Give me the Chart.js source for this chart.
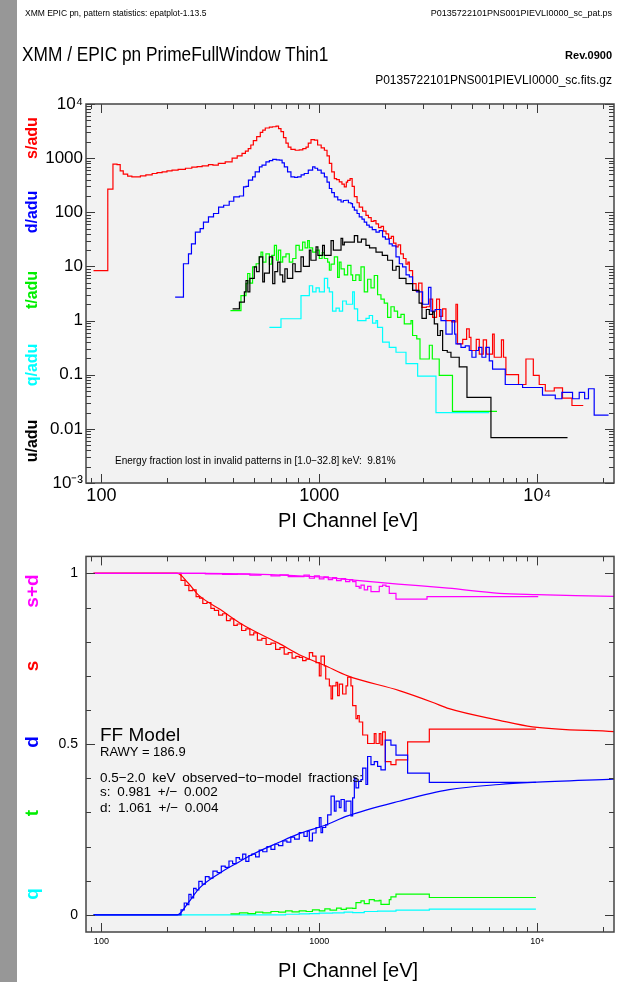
<!DOCTYPE html>
<html><head><meta charset="utf-8">
<script src="https://cdn.jsdelivr.net/npm/chart.js@4.4.1/dist/chart.umd.min.js"></script>
<style>
html,body{margin:0;padding:0;background:#fff;}
body{width:619px;height:982px;position:relative;overflow:hidden;font-family:"Liberation Sans",Arial,sans-serif;}
canvas{position:absolute;left:0;}
#c1{top:0}
#c2{top:540px}
.t{position:absolute;white-space:nowrap;line-height:1;color:#000;}
.bar{position:absolute;left:0;top:0;width:17px;height:982px;background:#979797;}
.v{position:absolute;transform:translate(-50%,-50%) rotate(-90deg);font-size:16px;font-weight:bold;white-space:nowrap;line-height:1}
.vb{font-size:19px}
</style></head><body>
<canvas id="c1" width="619" height="540"></canvas>
<canvas id="c2" width="619" height="442"></canvas>
<div class="bar"></div>

<div class="t" style="left:25px;top:9px;font-size:8.5px">XMM EPIC pn, pattern statistics: epatplot-1.13.5</div>
<div class="t" style="right:7px;top:9px;font-size:9px">P0135722101PNS001PIEVLI0000_sc_pat.ps</div>
<div class="t" style="left:22px;top:44px;font-size:20px;transform:scaleX(0.865);transform-origin:left">XMM / EPIC pn PrimeFullWindow Thin1</div>
<div class="t" style="right:7px;top:50px;font-size:11px;font-weight:bold">Rev.0900</div>
<div class="t" style="right:7px;top:74px;font-size:12px">P0135722101PNS001PIEVLI0000_sc.fits.gz</div>

<div class="v" style="left:32px;top:138px;color:#ff0000">s/adu</div>
<div class="v" style="left:32px;top:212px;color:#0000ff">d/adu</div>
<div class="v" style="left:32px;top:290px;color:#00ee00">t/adu</div>
<div class="v" style="left:32px;top:365px;color:#00ffff">q/adu</div>
<div class="v" style="left:32px;top:441px;color:#000000">u/adu</div>

<div class="t" style="left:115px;top:456px;font-size:10px">Energy fraction lost in invalid patterns in [1.0&minus;32.8] keV:&nbsp; 9.81%</div>
<div class="t" style="left:348px;top:510px;font-size:20px;transform:translateX(-50%)">PI Channel [eV]</div>

<div class="v vb" style="left:31px;top:591px;color:#ff00ff">s+d</div>
<div class="v vb" style="left:31px;top:666px;color:#ff0000">s</div>
<div class="v vb" style="left:31px;top:742px;color:#0000ff">d</div>
<div class="v vb" style="left:31px;top:813px;color:#00ee00">t</div>
<div class="v vb" style="left:31px;top:894px;color:#00ffff">q</div>

<div class="t" style="left:100px;top:725px;font-size:19px">FF Model</div>
<div class="t" style="left:100px;top:745px;font-size:13px">RAWY = 186.9</div>
<div class="t" style="left:100px;top:771px;font-size:13.5px;word-spacing:3px">0.5&minus;2.0 keV observed&minus;to&minus;model fractions:</div>
<div class="t" style="left:100px;top:785px;font-size:13.5px;word-spacing:3px">s: 0.981 +/&minus; 0.002</div>
<div class="t" style="left:100px;top:801px;font-size:13.5px;word-spacing:3px">d: 1.061 +/&minus; 0.004</div>
<div class="t" style="left:348px;top:960px;font-size:20px;transform:translateX(-50%)">PI Channel [eV]</div>

<script>
// tick labels
const xTickVals = [100, 1000, 10000];
const xTickLabels = ['100', '1000', '10\u2074'];
const yTopTickVals = [1e-3, 1e-2, 0.1, 1, 10, 100, 1000, 1e4];
const yTopTickLabels = ['10\u207B\u00B3', '0.01', '0.1', '1', '10', '100', '1000', '10\u2074'];
const yBotTickVals = [0, 0.5, 1];
const yBotTickLabels = ['0', '0.5', '1'];

// top panel: counts per adu, [PI eV, value]
const sAdu = [[92,8.4],[107,267],[113,775],[118,760],[122,580],[126,505],[132,465],[138,450],[151,470],[160,490],[171,520],[180,540],[190,560],[200,580],[211,600],[225,620],[243,650],[260,680],[275,700],[290,720],[310,760],[325,740],[344,800],[370,850],[398,1000],[420,1100],[442,1220],[458,1350],[472,1500],[485,1750],[498,2100],[516,2500],[536,3000],[550,3300],[565,3600],[590,3750],[610,3800],[633,3900],[650,3500],[667,3100],[685,2400],[703,1900],[720,1600],[741,1450],[775,1400],[809,1420],[840,1500],[869,1600],[890,1900],[916,2200],[949,2150],[982,1750],[1020,1550],[1055,1400],[1085,1100],[1112,800],[1140,560],[1172,420],[1200,400],[1235,365],[1270,330],[1302,295],[1330,360],[1349,390],[1384,420],[1415,300],[1448,195],[1490,150],[1525,125],[1580,105],[1637,88],[1680,80],[1730,68],[1780,70],[1820,61],[1870,52],[1920,55],[1970,45],[2023,40],[2080,33],[2140,36],[2190,27],[2248,23],[2300,25],[2360,17],[2430,14],[2499,11],[2550,12],[2588,8.4],[2679,4.8],[2780,3.5],[2856,4.9],[2959,1.75],[3100,1.8],[3219,2.5],[3311,1.15],[3453,2.5],[3560,1.2],[3680,1.65],[3811,1.0],[4050,0.95],[4236,2.0],[4306,0.37],[4550,0.45],[4742,0.7],[4875,0.49],[4963,0.28],[5250,0.45],[5420,0.24],[5653,0.44],[5850,0.24],[6237,0.56],[6348,0.21],[6850,0.44],[7000,0.21],[7182,0.1],[8205,0.066],[8874,0.195],[9594,0.097],[10210,0.066],[10890,0.05],[11970,0.057],[13060,0.037],[14430,0.027],[16260,0.027]];
const dAdu = [[218,2.7],[238,11.2],[251,17.1],[259,26],[270,43],[284,50],[294,66],[310,82],[327,95],[345,125],[364,135],[386,160],[405,192],[430,200],[449,295],[461,300],[473,391],[494,450],[508,557],[531,690],[546,742],[569,855],[590,900],[611,945],[635,930],[656,918],[675,820],[691,690],[715,560],[741,450],[770,440],[795,450],[825,490],[853,520],[890,600],[932,690],[955,650],[982,600],[1020,530],[1055,450],[1085,360],[1112,275],[1140,230],[1172,192],[1215,170],[1258,155],[1290,165],[1326,167],[1360,150],[1397,145],[1420,125],[1448,110],[1490,95],[1525,82],[1570,75],[1608,66],[1650,58],[1695,53],[1750,48],[1820,43],[1884,46],[1951,35],[2010,32],[2094,26],[2160,24],[2248,15],[2328,11.2],[2410,9.8],[2500,7],[2588,6.4],[2679,3.6],[2800,3.4],[2979,2.0],[3170,4.1],[3252,1.5],[3400,1.6],[3616,1.0],[3811,0.56],[4070,1.0],[4180,0.56],[4236,0.37],[4467,0.32],[4675,0.34],[4875,0.28],[5016,0.21],[5232,0.28],[5381,0.32],[5574,0.21],[5808,0.32],[6025,0.18],[6237,0.127],[7131,0.066],[8565,0.058],[10570,0.042],[12100,0.036],[12970,0.047],[14520,0.036],[15580,0.047],[16500,0.036],[17180,0.055],[18250,0.018],[21240,0.018]];
const tAdu = [[391,1.53],[437,2.9],[461,4.8],[469,7.4],[480,4.9],[494,9.8],[513,11.2],[531,15],[540,18.3],[550,12],[569,17],[590,11],[605,16],[622,24.5],[636,13],[649,20],[665,12],[679,15],[703,17],[728,12],[755,14],[781,24.5],[809,20],[838,28],[860,22],[884,30],[900,22],[932,18.3],[966,20],[1000,14],[1030,18],[1055,14],[1092,12],[1112,8.5],[1132,11],[1172,15],[1213,6.3],[1235,12],[1258,9],[1302,7],[1349,10.5],[1397,7],[1422,5.5],[1470,7],[1525,5.5],[1553,9.8],[1608,3.4],[1666,5.8],[1726,4],[1787,6.8],[1851,3],[1918,2.5],[1986,2.1],[2057,1.15],[2131,1.8],[2207,1.5],[2286,1.15],[2369,1.3],[2454,0.87],[2635,1.0],[2679,0.53],[2800,0.46],[2897,0.195],[3197,0.35],[3300,0.195],[3550,0.097],[4083,0.021],[6535,0.021]];
const qAdu = [[590,0.75],[667,1.08],[824,2.9],[900,4.4],[932,3.4],[966,4],[1000,3.4],[1055,6],[1092,4],[1112,3.4],[1150,1.5],[1193,1.7],[1235,1.5],[1279,2.3],[1330,2.0],[1422,3.4],[1448,1.64],[1499,1.0],[1581,1.0],[1637,1.1],[1695,1.24],[1755,0.9],[1820,1.0],[1850,0.75],[1951,0.4],[2094,0.32],[2248,0.26],[2499,0.16],[2826,0.094],[3430,0.02],[6025,0.02]];
const uAdu = [[400,1.64],[430,2.2],[453,3.4],[461,5.5],[470,3.4],[480,6],[503,9.8],[515,8],[530,15],[550,5.2],[560,7.5],[590,15],[611,4.8],[625,8],[644,12],[660,7],[679,5.2],[695,9],[713,6],[755,11.2],[775,8],[824,15],[845,10],[900,20],[915,13],[966,23],[985,16],[1035,24.5],[1055,16],[1132,30],[1160,20],[1258,33],[1280,25],[1302,28],[1448,37],[1500,28],[1560,32],[1637,24.5],[1700,22],[1820,18.3],[1945,16],[2057,13],[2168,8.5],[2250,10],[2328,6],[2499,4.8],[2679,3.6],[2870,2.1],[2959,1.1],[3097,1.6],[3197,1.3],[3311,1.45],[3370,0.87],[3491,0.53],[3590,0.65],[3680,0.28],[3865,0.26],[4018,0.21],[4385,0.14],[4759,0.038],[6131,0.0069],[13770,0.0069]];

// bottom panel: pattern fractions, [PI eV, fraction]
const sdFrac = [[92,1.0],[240,1.0],[300,0.999],[360,0.997],[420,0.998],[480,0.995],[540,0.997],[600,0.993],[660,0.996],[720,0.991],[809,0.991],[850,0.995],[900,0.986],[950,0.993],[1000,0.984],[1050,0.99],[1100,0.982],[1150,0.988],[1200,0.979],[1260,0.985],[1320,0.976],[1380,0.982],[1422,0.976],[1473,0.962],[1525,0.957],[1553,0.966],[1608,0.952],[1666,0.962],[1726,0.947],[1884,0.962],[1951,0.966],[2023,0.962],[2094,0.942],[2248,0.925],[3120,0.932],[10100,0.932]];
const sFrac = [[92,1.0],[223,1.0],[232,0.98],[242,0.965],[252,0.95],[262,0.952],[272,0.932],[282,0.928],[292,0.912],[305,0.915],[318,0.898],[330,0.892],[345,0.878],[360,0.882],[375,0.862],[390,0.867],[405,0.848],[420,0.852],[440,0.833],[460,0.838],[480,0.82],[500,0.826],[520,0.805],[545,0.81],[570,0.792],[600,0.796],[630,0.778],[660,0.783],[690,0.764],[720,0.768],[750,0.752],[780,0.757],[809,0.754],[838,0.745],[869,0.749],[900,0.768],[932,0.758],[966,0.739],[1000,0.70],[1018,0.758],[1055,0.729],[1070,0.691],[1112,0.671],[1132,0.633],[1150,0.671],[1193,0.681],[1213,0.642],[1235,0.676],[1279,0.647],[1326,0.671],[1349,0.696],[1397,0.671],[1422,0.613],[1473,0.575],[1499,0.584],[1525,0.565],[1581,0.527],[1666,0.502],[1787,0.531],[1820,0.502],[1884,0.531],[1918,0.498],[1951,0.536],[2008,0.449],[2131,0.44],[2248,0.454],[2542,0.507],[3197,0.544],[9860,0.544]];
const dFrac = [[92,0],[223,0],[232,0.015],[240,0.035],[246,0.03],[252,0.06],[258,0.05],[265,0.078],[272,0.073],[280,0.098],[290,0.09],[300,0.112],[312,0.108],[325,0.128],[340,0.124],[355,0.143],[370,0.139],[385,0.158],[400,0.15],[415,0.168],[430,0.163],[445,0.178],[460,0.157],[475,0.174],[490,0.178],[510,0.17],[530,0.19],[550,0.185],[575,0.2],[600,0.192],[625,0.207],[650,0.203],[680,0.217],[710,0.213],[740,0.228],[770,0.222],[809,0.241],[850,0.23],[880,0.245],[900,0.217],[930,0.24],[966,0.256],[1000,0.285],[1018,0.241],[1035,0.256],[1070,0.264],[1092,0.293],[1132,0.348],[1172,0.304],[1193,0.333],[1235,0.314],[1258,0.338],[1302,0.304],[1326,0.333],[1397,0.29],[1422,0.343],[1448,0.401],[1473,0.372],[1515,0.391],[1553,0.396],[1581,0.43],[1637,0.382],[1666,0.464],[1726,0.44],[1787,0.449],[1851,0.435],[1918,0.425],[2008,0.512],[2131,0.497],[2248,0.468],[2542,0.415],[3197,0.388],[9860,0.388]];
const tFrac = [[391,0.003],[430,0.006],[470,0.004],[510,0.008],[550,0.006],[600,0.01],[650,0.008],[700,0.012],[750,0.009],[809,0.012],[870,0.01],[930,0.015],[1000,0.012],[1060,0.018],[1120,0.014],[1200,0.02],[1260,0.016],[1330,0.02],[1422,0.019],[1473,0.036],[1553,0.041],[1608,0.033],[1695,0.045],[1787,0.041],[1884,0.043],[1918,0.031],[2094,0.045],[2131,0.053],[2248,0.061],[3197,0.051],[9860,0.051]];
const qFrac = [[92,0],[600,0],[700,0.002],[809,0.003],[900,0.004],[1000,0.005],[1150,0.006],[1300,0.008],[1422,0.007],[1608,0.01],[1850,0.011],[2248,0.014],[3197,0.017],[9860,0.017]];
const sdModel = [[92,1],[300,1.0],[500,0.998],[800,0.993],[1000,0.99],[1400,0.981],[2300,0.969],[3900,0.957],[6700,0.942],[10000,0.938],[15000,0.935],[22500,0.933]];
const sModel = [[92,1],[223,1.0],[250,0.972],[281,0.935],[350,0.895],[430,0.856],[500,0.832],[650,0.796],[809,0.762],[1055,0.731],[1349,0.70],[2328,0.657],[3300,0.623],[3940,0.604],[6700,0.57],[9500,0.551],[22500,0.537]];
const dModel = [[92,0],[223,0],[250,0.035],[281,0.078],[350,0.123],[430,0.156],[500,0.179],[650,0.212],[809,0.238],[1055,0.262],[1349,0.29],[2328,0.333],[3940,0.367],[6700,0.382],[9500,0.388],[22500,0.398]];

const pts = a => a.map(([x, y]) => ({x, y}));

const frame = {
  id: 'frame',
  beforeDraw(chart) {
    const {ctx, chartArea: a} = chart;
    ctx.save();
    ctx.fillStyle = '#f2f2f2';
    ctx.fillRect(a.left, a.top, a.right - a.left, a.bottom - a.top);
    ctx.restore();
  },
  afterDraw(chart) {
    const {ctx, chartArea: a, scales: {x, y}} = chart;
    const line = (x1, y1, x2, y2) => { ctx.beginPath(); ctx.moveTo(x1, y1); ctx.lineTo(x2, y2); ctx.stroke(); };
    ctx.save();
    ctx.strokeStyle = '#3a3a3a';
    ctx.lineWidth = 1;
    for (let d = 1; d <= 4; d++) for (let m = 1; m <= 9; m++) {
      const v = m * Math.pow(10, d);
      if (v < x.min || v > x.max) continue;
      const px = Math.round(x.getPixelForValue(v)) + 0.5;
      const len = m === 1 ? 9 : 5;
      line(px, a.bottom, px, a.bottom - len);
      line(px, a.top, px, a.top + len);
    }
    if (y.type === 'logarithmic') {
      for (let d = -3; d <= 4; d++) for (let m = 1; m <= 9; m++) {
        const v = m * Math.pow(10, d);
        if (v < y.min * 0.999 || v > y.max * 1.001) continue;
        const py = Math.round(y.getPixelForValue(v)) + 0.5;
        const len = m === 1 ? 9 : 5;
        line(a.left, py, a.left + len, py);
        line(a.right, py, a.right - len, py);
      }
    } else {
      for (let i = 0; i <= 10; i++) {
        const py = Math.round(y.getPixelForValue(i / 10)) + 0.5;
        const len = i % 5 === 0 ? 9 : 5;
        line(a.left, py, a.left + len, py);
        line(a.right, py, a.right - len, py);
      }
    }
    ctx.lineWidth = 1.5;
    ctx.strokeStyle = '#444';
    ctx.strokeRect(a.left, a.top, a.right - a.left, a.bottom - a.top);
    ctx.restore();
  }
};

const hist = (data, color) => ({data: pts(data), borderColor: color, borderWidth: 1.2, stepped: true, pointRadius: 0, fill: false});
const curve = (data, color) => ({data: pts(data), borderColor: color, borderWidth: 1.2, cubicInterpolationMode: 'monotone', pointRadius: 0, fill: false});

const xAxis = (fontSize, pad, h) => ({
  type: 'logarithmic', min: 85, max: 22500,
  grid: {display: false, drawTicks: false}, border: {display: false},
  afterFit: s => { s.height = h; },
  afterBuildTicks: s => { s.ticks = xTickVals.map(v => ({value: v})); },
  ticks: {autoSkip: false, maxRotation: 0, padding: pad, color: '#000',
    font: {family: 'Liberation Sans', size: fontSize},
    callback: (v, i) => xTickLabels[i]}
});

const baseOpts = {
  responsive: false, animation: false, devicePixelRatio: 1,
  plugins: {legend: {display: false}, tooltip: {enabled: false}}
};

new Chart(document.getElementById('c1'), {
  type: 'line',
  data: {datasets: [
    hist(uAdu, '#000000'), hist(qAdu, '#00ffff'), hist(tAdu, '#00ff00'),
    hist(dAdu, '#0000ff'), hist(sAdu, '#ff0000')
  ]},
  options: Object.assign({}, baseOpts, {
    layout: {padding: {top: 104, right: 5, left: 0, bottom: 0}},
    scales: {
      x: xAxis(18, 2, 57),
      y: {type: 'logarithmic', min: 1e-3, max: 1e4,
        grid: {display: false, drawTicks: false}, border: {display: false},
        afterFit: s => { s.width = 86; },
        afterBuildTicks: s => { s.ticks = yTopTickVals.map(v => ({value: v})); },
        ticks: {autoSkip: false, padding: 3, color: '#000',
          font: {family: 'Liberation Sans', size: 17},
          callback: (v, i) => yTopTickLabels[i]}}
    }
  }),
  plugins: [frame]
});

new Chart(document.getElementById('c2'), {
  type: 'line',
  data: {datasets: [
    curve(sdModel, '#ff00ff'), curve(sModel, '#ff0000'), curve(dModel, '#0000ff'),
    hist(tFrac, '#00ff00'), hist(dFrac, '#0000ff'), hist(qFrac, '#00ffff'),
    hist(sFrac, '#ff0000'), hist(sdFrac, '#ff00ff')
  ]},
  options: Object.assign({}, baseOpts, {
    layout: {padding: {top: 13, right: 5, left: 0, bottom: 0}},
    scales: {
      x: xAxis(9, 4, 50),
      y: {type: 'linear', min: -0.05, max: 1.05,
        grid: {display: false, drawTicks: false}, border: {display: false},
        afterFit: s => { s.width = 86; },
        afterBuildTicks: s => { s.ticks = yBotTickVals.map(v => ({value: v})); },
        ticks: {autoSkip: false, padding: 8, color: '#000',
          font: {family: 'Liberation Sans', size: 14},
          callback: (v, i) => yBotTickLabels[i]}}
    }
  }),
  plugins: [frame]
});
</script>
</body></html>
